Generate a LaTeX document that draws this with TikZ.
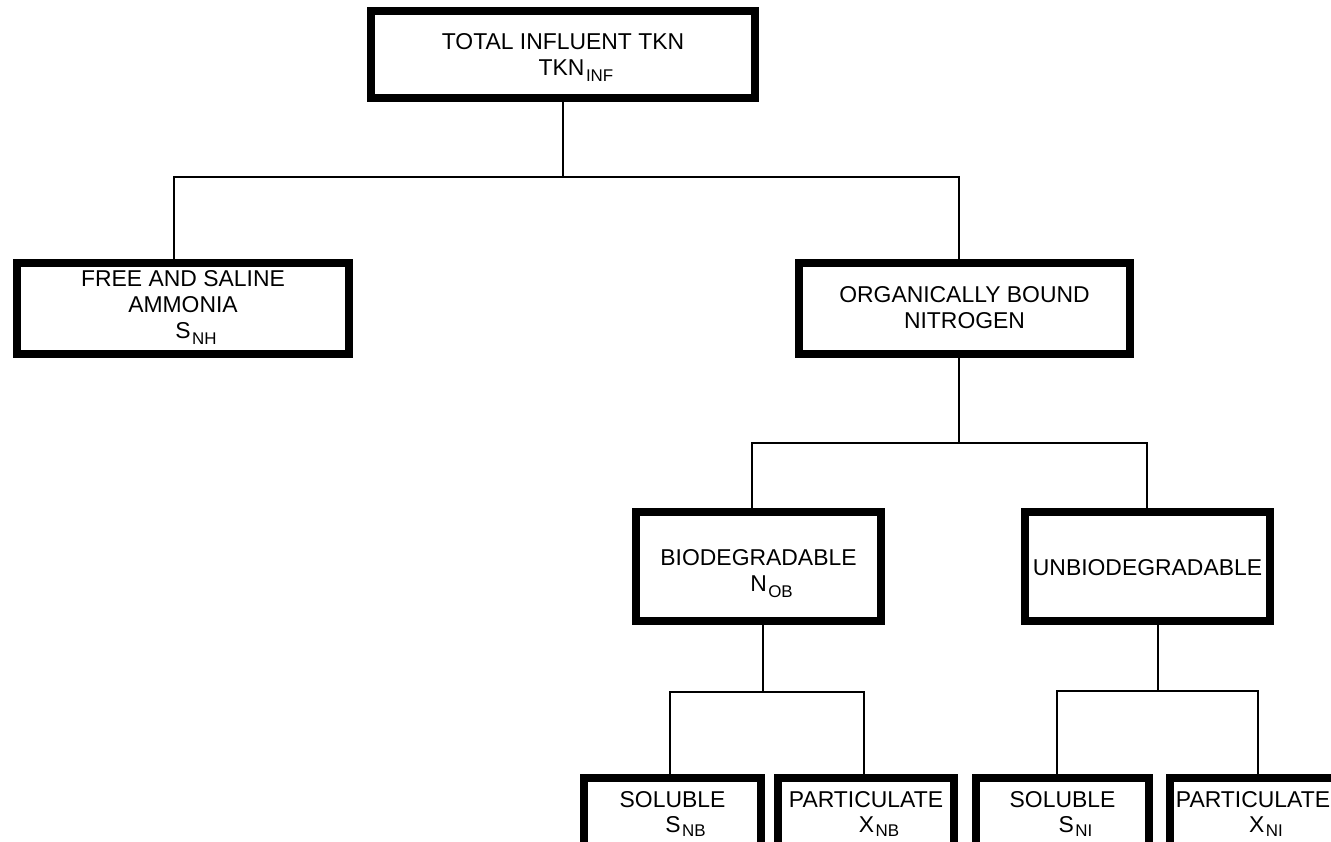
\documentclass[tikz,border=0pt]{standalone}
\usepackage{fontspec}
\setmainfont{Liberation Sans}
\newcommand\sbx[1]{\hspace{1.5bp}\raisebox{-6bp}{\fontsize{17}{17}\selectfont #1}}
\newcommand\sbl[1]{\hspace{1.5bp}\raisebox{-4bp}{\fontsize{17}{17}\selectfont #1}}
\newcommand\shf{\hspace*{26bp}}
\begin{document}
\begin{tikzpicture}[x=1bp,y=-1bp,
  box/.style={draw, line width=8bp, inner sep=0pt},
  txt/.style={inner sep=0pt, align=center, font=\fontsize{23}{26}\selectfont},
  link/.style={line width=2bp}]
\useasboundingbox (0,0) rectangle (1331,841);
\clip (0,0) rectangle (1331,841);
% boxes
\node[box, minimum width=384bp, minimum height=87bp] (top) at (563,54.5) {};
\node[box, minimum width=332bp, minimum height=91bp] (fsa) at (183,308.5) {};
\node[box, minimum width=331bp, minimum height=91bp] (obn) at (964.5,308.5) {};
\node[box, minimum width=245bp, minimum height=109bp] (bio) at (758.5,566.5) {};
\node[box, minimum width=245bp, minimum height=109bp] (unb) at (1147.5,566.5) {};
\node[box, minimum width=177bp, minimum height=78bp] (sb) at (672.5,817) {};
\node[box, minimum width=176bp, minimum height=78bp] (xb) at (866,817) {};
\node[box, minimum width=173bp, minimum height=78bp] (sn) at (1062.5,817) {};
\node[box, minimum width=171bp, minimum height=78bp] (xn) at (1255.5,817) {};
% texts
\node[txt] (topt) at ([yshift=-3bp]top.center) {TOTAL INFLUENT TKN\\\shf TKN\sbx{INF}};
\node[txt] (fsat) at ([yshift=1bp]fsa.center) {FREE AND SALINE\\AMMONIA\\\shf S\sbx{NH}};
\node[txt] (obnt) at ([yshift=1bp]obn.center) {ORGANICALLY BOUND\\NITROGEN};
\node[txt] (biot) at ([yshift=-7bp]bio.center) {BIODEGRADABLE\\\shf N\sbx{OB}};
\node[txt] (unbt) at ([yshift=-1bp]unb.center) {UNBIODEGRADABLE};
\node[txt] (sbt) at (672.5,814) {SOLUBLE\\\shf S\sbl{NB}};
\node[txt] (xbt) at (866,814) {PARTICULATE\\\shf X\sbl{NB}};
\node[txt] (snt) at (1062.5,814) {SOLUBLE\\\shf S\sbl{NI}};
\node[txt] (xnt) at (1253,814) {PARTICULATE\\\shf X\sbl{NI}};
% bar end points
\coordinate (b1l) at (174,177);
\coordinate (b1r) at (959,177);
\coordinate (b2l) at (752,443);
\coordinate (b2r) at (1147,443);
\coordinate (b3l) at (670,692);
\coordinate (b3r) at (864,692);
\coordinate (b4l) at (1057,691);
\coordinate (b4r) at (1258,691);
% connectors
\draw[link] (top.south) |- (b1l) -- (b1l |- fsa.north);
\draw[link] (top.south) |- (b1r) -- (b1r |- obn.north);
\draw[link] (b1r |- obn.south) |- (b2l) -- (b2l |- bio.north);
\draw[link] (b1r |- obn.south) |- (b2r) -- (b2r |- unb.north);
\draw[link] ([xshift=4.5bp]bio.south) |- (b3l) -- (b3l |- sb.north);
\draw[link] ([xshift=4.5bp]bio.south) |- (b3r) -- (b3r |- xb.north);
\draw[link] ([xshift=10.5bp]unb.south) |- (b4l) -- (b4l |- sn.north);
\draw[link] ([xshift=10.5bp]unb.south) |- (b4r) -- (b4r |- xn.north);
\end{tikzpicture}
\end{document}
